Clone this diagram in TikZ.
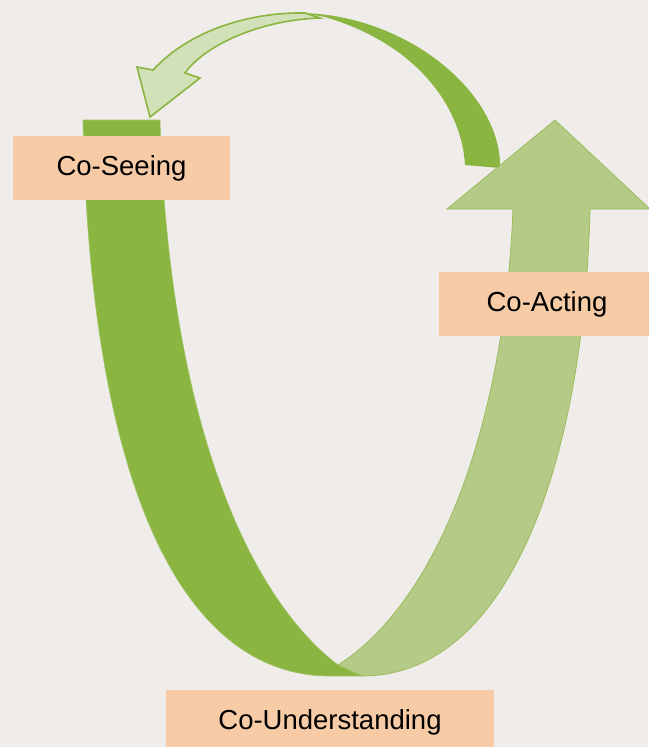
\documentclass[tikz,border=0pt]{standalone}
\usepackage{fontspec}
\setmainfont{Liberation Sans}
\usepackage{tikz}
\usetikzlibrary{positioning}

\definecolor{bgpaper}{HTML}{EFECE9}
\definecolor{leafdark}{HTML}{8AB541}
\definecolor{leaflight}{HTML}{B5CA86}
\definecolor{leafpale}{HTML}{D3E1B8}
\definecolor{stagefill}{HTML}{F7CBA6}

\tikzset{
  stagebox/.style={fill=stagefill, minimum height=64pt, inner sep=0pt,
    font=\fontsize{27.5}{30}\selectfont, text=black},
  darkband/.style={fill=leafdark, draw=leafdark!80!white, line width=0.6pt},
  lightband/.style={fill=leaflight, draw=leafdark!60!leaflight, line width=0.8pt},
  paleband/.style={fill=leafpale, draw=leafdark, line width=1.6pt, line join=miter}
}

\begin{document}
\begin{tikzpicture}[x=1pt, y=-1pt]
    \useasboundingbox (0, 0) rectangle (648, 747);
    \fill [bgpaper] (0, 0) rectangle (648, 747);

    % curved arrow back to the start
    \draw [paleband] (320, 18) .. controls (260, 20) and (205, 45) .. (185, 73)
        -- (200, 78) -- (150, 117) -- (137, 67) -- (153, 70)
        .. controls (190, 30) and (250, 12) .. (305, 13) -- cycle;
    \fill [leafdark] (303, 13) .. controls (410, 16) and (502, 95) .. (500, 168)
        -- (465, 165) .. controls (462, 110) and (420, 45) .. (325, 17) -- cycle;

    % left half of the loop
    \draw [darkband] (83, 120) .. controls (90, 480) and (180, 676) .. (330, 676)
        -- (362, 676) -- (338, 665)
        .. controls (240, 590) and (168, 400) .. (160, 120) -- cycle;

    % right half of the loop, with the arrow head
    \draw [lightband] (555, 120) -- (650, 209) -- (590, 209)
        .. controls (584, 460) and (510, 676) .. (362, 676)
        -- (338, 665)
        .. controls (440, 600) and (505, 420) .. (513, 209)
        -- (447, 209) -- cycle;

    \node [stagebox, minimum width=217pt] (seeing) at (121.5, 168) {Co-Seeing};
    \node [stagebox, minimum width=216pt] (acting) at (547, 304) {Co-Acting};
    \node [stagebox, minimum width=328pt] (understanding) at (330, 722) {Co-Understanding};
\end{tikzpicture}
\end{document}
